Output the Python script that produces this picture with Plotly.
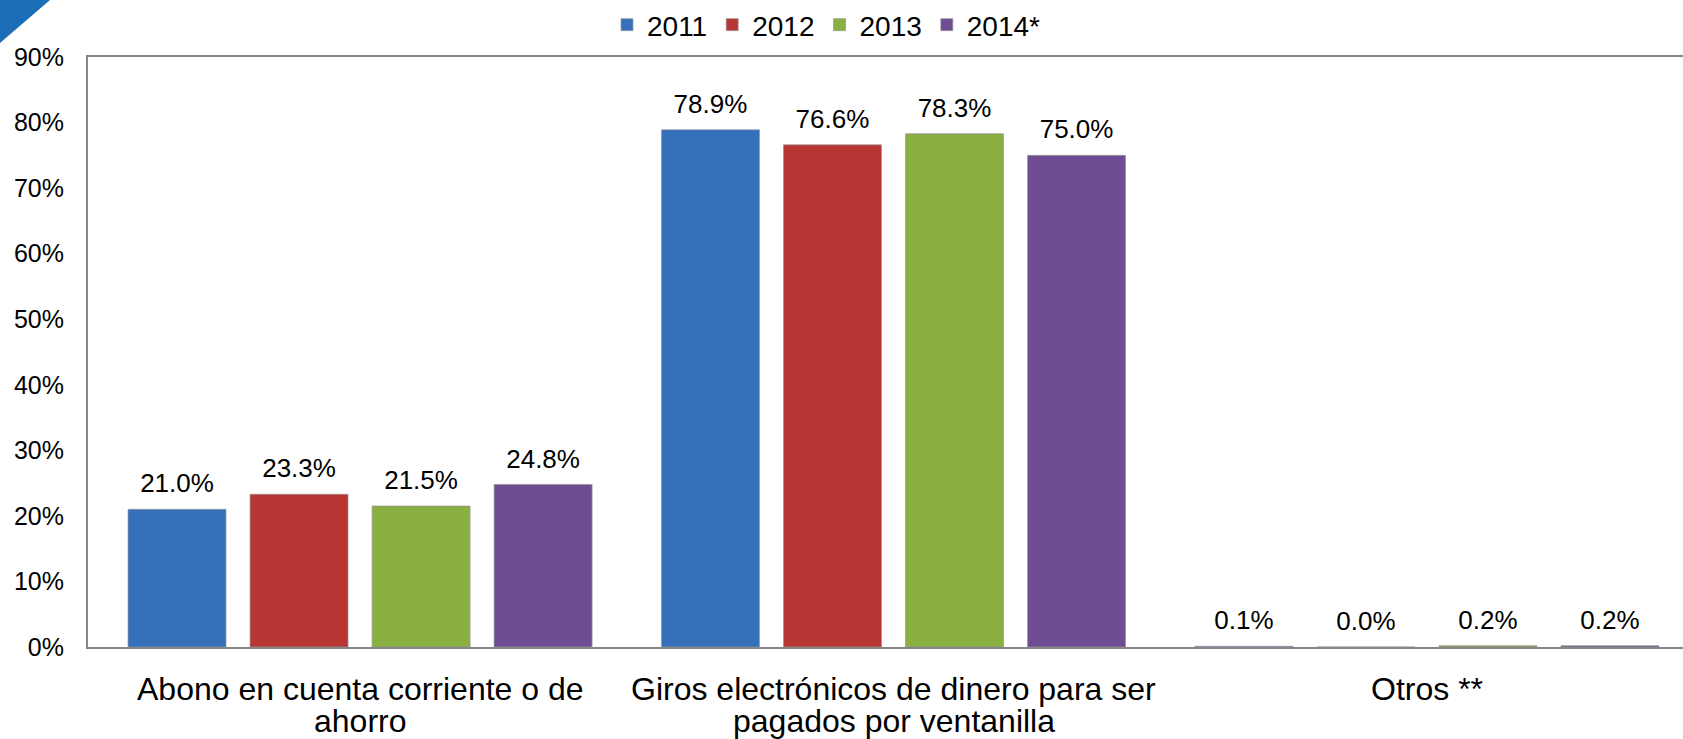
import plotly.graph_objects as go

categories = ["Abono en cuenta corriente o de ahorro",
              "Giros electrónicos de dinero para ser pagados por ventanilla",
              "Otros **"]
category_lines = [["Abono en cuenta corriente o de", "ahorro"],
                  ["Giros electrónicos de dinero para ser", "pagados por ventanilla"],
                  ["Otros **"]]
series_names = ["2011", "2012", "2013", "2014*"]
values_2011 = [21.0, 78.9, 0.1]
values_2012 = [23.3, 76.6, 0.0]
values_2013 = [21.5, 78.3, 0.2]
values_2014 = [24.8, 75.0, 0.2]
colors = ["#3571BA", "#B73532", "#8AB042", "#6E4D94"]
y_ticks = [0, 10, 20, 30, 40, 50, 60, 70, 80, 90]
y_ticktext = [f"{v}%" for v in y_ticks]

FONT = "Liberation Sans, Arial, sans-serif"
PLOT_TOP, PLOT_BOTTOM, PLOT_LEFT, W, H = 57, 647, 88, 1683, 739
plot_h = PLOT_BOTTOM - PLOT_TOP
plot_w = W - PLOT_LEFT

fig = go.Figure()
all_vals = [values_2011, values_2012, values_2013, values_2014]
for name, vals, col in zip(series_names, all_vals, colors):
    fig.add_trace(go.Bar(
        name=name, x=categories, y=vals,
        marker=dict(color=col, line=dict(color="rgba(150,150,150,0.7)", width=1)),
        cliponaxis=False,
    ))
for name, vals in zip(series_names, all_vals):
    fig.add_trace(go.Scatter(
        name=name, x=categories, y=vals, mode="markers+text",
        texttemplate="%{y:.1f}%", textposition="top center",
        textfont=dict(size=26, color="black", family=FONT),
        marker=dict(size=15, color="rgba(0,0,0,0)", line=dict(width=0)),
        showlegend=False, cliponaxis=False, hoverinfo="skip",
    ))

annotations = []
line_y = [-(698 - 9 - PLOT_BOTTOM) / plot_h, -(730 - 9 - PLOT_BOTTOM) / plot_h]
for cat, lines in zip(categories, category_lines):
    for i, ln in enumerate(lines):
        annotations.append(dict(x=cat, y=line_y[i], xref="x", yref="paper", text=ln,
                                showarrow=False, xanchor="center", yanchor="middle",
                                font=dict(size=32, color="black", family=FONT)))

fig.update_layout(
    width=W, height=H,
    margin=dict(l=PLOT_LEFT, r=0, t=PLOT_TOP, b=H - PLOT_BOTTOM, autoexpand=False),
    paper_bgcolor="white", plot_bgcolor="white",
    barmode="group", bargap=0.085, bargroupgap=0.197,
    scattermode="group", scattergap=0.085,
    font=dict(family=FONT, color="black"),
    showlegend=True,
    legend=dict(orientation="h", x=0.463, xanchor="center",
                y=1 + (PLOT_TOP - 25) / plot_h, yanchor="middle",
                font=dict(size=28, color="black"), itemwidth=30,
                traceorder="normal", bgcolor="rgba(0,0,0,0)"),
    xaxis=dict(range=[-0.51, 2.48], showline=True, linecolor="#868686", linewidth=2,
               mirror=True, ticks="", showgrid=False, showticklabels=False,
               automargin=False),
    yaxis=dict(range=[0, 90], tickvals=y_ticks, ticktext=y_ticktext, showline=True,
               linecolor="#868686", linewidth=2, ticks="", showgrid=False,
               zeroline=False, ticklabelstandoff=17, automargin=False,
               tickfont=dict(size=25, color="black")),
    annotations=annotations,
    shapes=[dict(type="path", xref="paper", yref="paper",
                 path=f"M {-PLOT_LEFT/plot_w},{1+PLOT_TOP/plot_h} "
                      f"L {(50-PLOT_LEFT)/plot_w},{1+PLOT_TOP/plot_h} "
                      f"L {-PLOT_LEFT/plot_w},{1+(PLOT_TOP-43)/plot_h} Z",
                 fillcolor="#1B6DB5", line=dict(width=0), layer="above")],
)

fig.write_html("out.html",
               config={"displayModeBar": False},
               post_script="document.body.style.margin='0';"
                           "document.body.style.overflow='hidden';")
